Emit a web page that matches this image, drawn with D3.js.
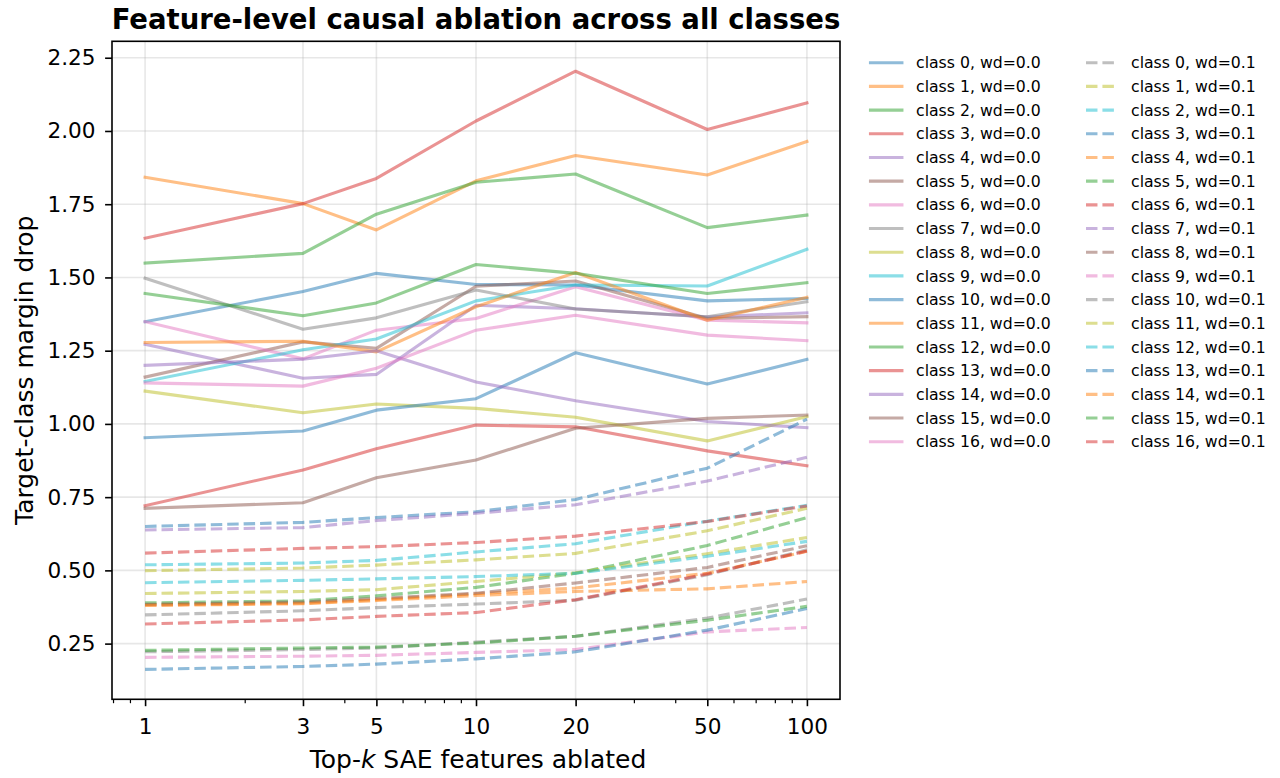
<!DOCTYPE html>
<html>
<head>
<meta charset="utf-8">
<script src="https://cdn.jsdelivr.net/npm/d3@7"></script>
<style>
  body { margin: 0; background: #fff; }
  text { font-family: "DejaVu Sans", sans-serif; fill: #000; }
</style>
</head>
<body>
<svg id="chart" width="1280" height="778"></svg>
<script>
// Number of top SAE features ablated (x positions)
const topK = [1, 3, 5, 10, 20, 50, 100];
const classIds = d3.range(17);
const weightDecays = ["0.0", "0.1"];

// Target-class margin drop per class, weight decay 0.0
const marginWd00 = [
  [1.349, 1.452, 1.514, 1.476, 1.474, 1.420, 1.428],
  [1.842, 1.752, 1.662, 1.830, 1.916, 1.850, 1.964],
  [1.549, 1.582, 1.716, 1.825, 1.853, 1.670, 1.713],
  [1.634, 1.752, 1.838, 2.034, 2.204, 2.005, 2.096],
  [1.272, 1.156, 1.169, 1.405, 1.393, 1.365, 1.379],
  [1.160, 1.280, 1.258, 1.470, 1.488, 1.360, 1.366],
  [1.349, 1.222, 1.320, 1.360, 1.468, 1.354, 1.345],
  [1.497, 1.323, 1.362, 1.457, 1.392, 1.366, 1.417],
  [1.112, 1.038, 1.068, 1.053, 1.023, 0.942, 1.025],
  [1.145, 1.253, 1.290, 1.420, 1.474, 1.471, 1.596],
  [0.953, 0.976, 1.047, 1.086, 1.243, 1.136, 1.220],
  [1.278, 1.282, 1.246, 1.400, 1.517, 1.354, 1.432],
  [1.445, 1.369, 1.413, 1.544, 1.514, 1.445, 1.482],
  [0.721, 0.843, 0.915, 0.996, 0.990, 0.908, 0.857],
  [1.200, 1.221, 1.250, 1.143, 1.079, 1.008, 0.987],
  [0.712, 0.731, 0.816, 0.877, 0.985, 1.019, 1.030],
  [1.140, 1.129, 1.190, 1.320, 1.371, 1.303, 1.284]
];

// Target-class margin drop per class, weight decay 0.1
const marginWd01 = [
  [0.348, 0.362, 0.373, 0.385, 0.398, 0.485, 0.570],
  [0.499, 0.508, 0.518, 0.536, 0.558, 0.635, 0.712],
  [0.519, 0.525, 0.534, 0.563, 0.591, 0.668, 0.722],
  [0.650, 0.664, 0.680, 0.700, 0.742, 0.849, 1.016],
  [0.382, 0.388, 0.400, 0.420, 0.440, 0.490, 0.565],
  [0.389, 0.396, 0.413, 0.442, 0.490, 0.585, 0.680],
  [0.559, 0.575, 0.581, 0.595, 0.617, 0.667, 0.720],
  [0.638, 0.646, 0.670, 0.695, 0.724, 0.805, 0.886],
  [0.384, 0.392, 0.404, 0.422, 0.457, 0.510, 0.584],
  [0.203, 0.207, 0.210, 0.220, 0.230, 0.290, 0.305],
  [0.222, 0.230, 0.235, 0.255, 0.275, 0.337, 0.402],
  [0.421, 0.428, 0.434, 0.462, 0.492, 0.557, 0.612],
  [0.458, 0.466, 0.471, 0.479, 0.490, 0.548, 0.599],
  [0.162, 0.172, 0.180, 0.198, 0.222, 0.296, 0.370],
  [0.380, 0.386, 0.397, 0.414, 0.428, 0.437, 0.462],
  [0.227, 0.235, 0.238, 0.252, 0.275, 0.330, 0.377],
  [0.317, 0.331, 0.343, 0.356, 0.400, 0.488, 0.566]
];

const yTickValues = [0.25, 0.50, 0.75, 1.00, 1.25, 1.50, 1.75, 2.00, 2.25];
const xMinorTicks = [0.8, 0.9, 2, 4, 6, 7, 8, 9, 30, 40, 60, 70, 80, 90];

const tab10 = ["#1f77b4", "#ff7f0e", "#2ca02c", "#d62728", "#9467bd",
               "#8c564b", "#e377c2", "#7f7f7f", "#bcbd22", "#17becf"];

// Build the series list: all wd=0.0 lines first, then all wd=0.1 lines
const series = [];
[marginWd00, marginWd01].forEach((table, w) => {
  classIds.forEach(c => {
    series.push({
      label: `class ${c}, wd=${weightDecays[w]}`,
      dashed: w === 1,
      values: topK.map((k, j) => ({ k, v: table[c][j] }))
    });
  });
});
series.forEach((s, i) => { s.color = tab10[i % 10]; });

const plot = { left: 112, right: 840, top: 41.3, bottom: 699.3 };
const lw = 3.1;

// log-x with 5% margins in log space, linear y with 5% margins
const lx0 = Math.log10(d3.min(topK)), lx1 = Math.log10(d3.max(topK));
const lpad = (lx1 - lx0) * 0.05;
const x = d3.scaleLog()
  .domain([Math.pow(10, lx0 - lpad), Math.pow(10, lx1 + lpad)])
  .range([plot.left, plot.right]);

const allV = series.flatMap(s => s.values.map(d => d.v));
const vmin = d3.min(allV), vmax = d3.max(allV);
const vpad = (vmax - vmin) * 0.05;
const y = d3.scaleLinear()
  .domain([vmin - vpad, vmax + vpad])
  .range([plot.bottom, plot.top]);

const svg = d3.select("#chart");

// grid
const grid = svg.append("g");
grid.selectAll("line.gx").data(topK).enter().append("line")
  .attr("x1", d => x(d)).attr("x2", d => x(d))
  .attr("y1", plot.top).attr("y2", plot.bottom)
  .attr("stroke", "#b0b0b0").attr("stroke-opacity", 0.3).attr("stroke-width", 1.6);
grid.selectAll("line.gy").data(yTickValues).enter().append("line")
  .attr("x1", plot.left).attr("x2", plot.right)
  .attr("y1", d => y(d)).attr("y2", d => y(d))
  .attr("stroke", "#b0b0b0").attr("stroke-opacity", 0.3).attr("stroke-width", 1.6);

// lines
const line = d3.line().x(d => x(d.k)).y(d => y(d.v));
svg.append("defs").append("clipPath").attr("id", "plotclip")
  .append("rect").attr("x", plot.left).attr("y", plot.top)
  .attr("width", plot.right - plot.left).attr("height", plot.bottom - plot.top);

svg.append("g").attr("clip-path", "url(#plotclip)")
  .selectAll("path").data(series).enter().append("path")
  .attr("d", s => line(s.values))
  .attr("fill", "none")
  .attr("stroke", s => s.color)
  .attr("stroke-opacity", 0.5)
  .attr("stroke-width", lw)
  .attr("stroke-linejoin", "round")
  .attr("stroke-linecap", s => s.dashed ? "butt" : "square")
  .attr("stroke-dasharray", s => s.dashed ? `${3.7 * lw},${1.6 * lw}` : null);

// axes
const xAxis = d3.axisBottom(x).tickValues(topK).tickFormat(d3.format("d"))
  .tickSize(6.9).tickPadding(12.5);
const gx = svg.append("g").attr("transform", `translate(0,${plot.bottom})`).call(xAxis);
gx.select(".domain").remove();
gx.selectAll(".tick line").attr("stroke", "#000").attr("stroke-width", 1.6);
gx.selectAll(".tick text").attr("font-size", "21.6px").attr("font-family", "DejaVu Sans").attr("fill", "#000");

const gxMinor = svg.append("g").attr("transform", `translate(0,${plot.bottom})`)
  .call(d3.axisBottom(x).tickValues(xMinorTicks).tickFormat("").tickSize(3.9));
gxMinor.select(".domain").remove();
gxMinor.selectAll(".tick line").attr("stroke", "#000").attr("stroke-width", 1.2);

const yAxis = d3.axisLeft(y).tickValues(yTickValues).tickFormat(d3.format(".2f"))
  .tickSize(6.9).tickPadding(9.5);
const gy = svg.append("g").attr("transform", `translate(${plot.left},0)`).call(yAxis);
gy.select(".domain").remove();
gy.selectAll(".tick line").attr("stroke", "#000").attr("stroke-width", 1.6);
gy.selectAll(".tick text").attr("font-size", "21.6px").attr("font-family", "DejaVu Sans").attr("fill", "#000");

// frame
svg.append("rect")
  .attr("x", plot.left).attr("y", plot.top)
  .attr("width", plot.right - plot.left).attr("height", plot.bottom - plot.top)
  .attr("fill", "none").attr("stroke", "#000").attr("stroke-width", 1.6);

// title and axis labels
const cx = (plot.left + plot.right) / 2;
svg.append("text").attr("x", cx).attr("y", 28.5)
  .attr("text-anchor", "middle").attr("font-size", "27.5px").attr("font-weight", "bold")
  .text("Feature-level causal ablation across all classes");

const xl = svg.append("text").attr("x", cx + 2).attr("y", 768)
  .attr("text-anchor", "middle").attr("font-size", "25px");
xl.append("tspan").text("Top-");
xl.append("tspan").attr("font-style", "italic").text("k");
xl.append("tspan").text(" SAE features ablated");

svg.append("text")
  .attr("transform", `translate(33,${(plot.top + plot.bottom) / 2}) rotate(-90)`)
  .attr("text-anchor", "middle").attr("font-size", "25px")
  .text("Target-class margin drop");

// legend: two columns (wd=0.0 / wd=0.1)
const legend = svg.append("g");
const rowH = 23.69, row0 = 62.7;
const colX = [{ h: 870.5, t: 916 }, { h: 1086, t: 1131 }];
series.forEach((s, i) => {
  const col = s.dashed ? 1 : 0;
  const row = i % 17;
  const yy = row0 + row * rowH;
  legend.append("line")
    .attr("x1", colX[col].h).attr("x2", colX[col].h + 31.4)
    .attr("y1", yy).attr("y2", yy)
    .attr("stroke", s.color).attr("stroke-opacity", 0.5).attr("stroke-width", lw)
    .attr("stroke-linecap", s.dashed ? "butt" : "square")
    .attr("stroke-dasharray", s.dashed ? `${3.7 * lw},${1.6 * lw}` : null);
  legend.append("text")
    .attr("x", colX[col].t).attr("y", yy + 5.6)
    .attr("font-size", "15.7px")
    .text(s.label);
});
</script>
</body>
</html>
